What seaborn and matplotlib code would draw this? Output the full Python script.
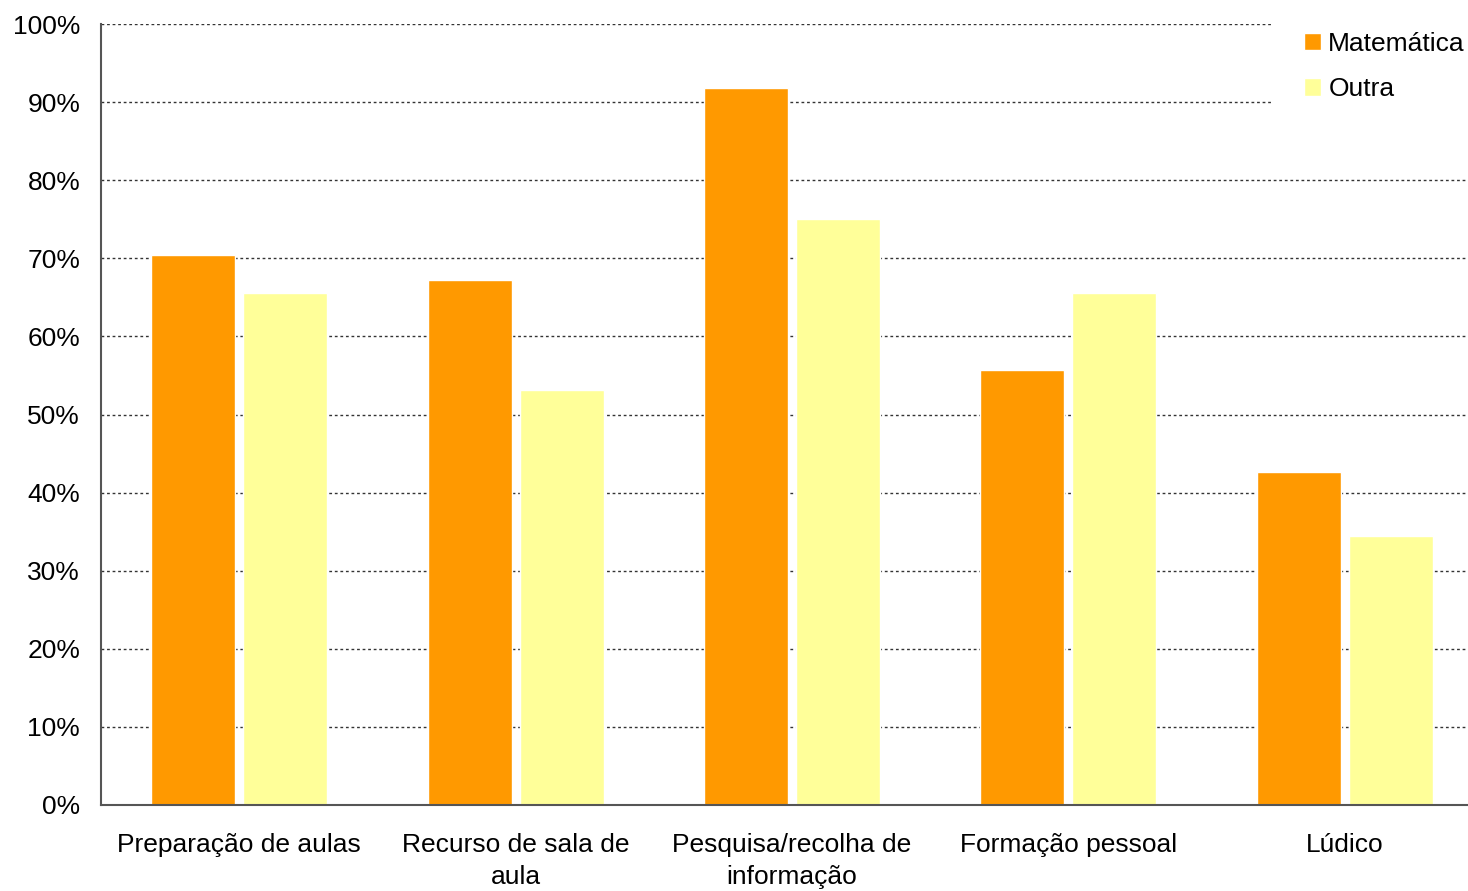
import pandas as pd
import matplotlib.pyplot as plt
import seaborn as sns
from matplotlib.ticker import PercentFormatter

# --- Dados ---
categorias = ['Preparação de aulas', 'Recurso de sala de\naula', 'Pesquisa/recolha de\ninformação',
              'Formação pessoal', 'Lúdico']
matematica = [70.4, 67.2, 91.8, 55.7, 42.6]
outra = [65.6, 53.1, 75.0, 65.6, 34.4]
series = ['Matemática', 'Outra']
cores = ['#FF9900', '#FFFF99']

df = pd.DataFrame({
    'Categoria': categorias * 2,
    'Valor': matematica + outra,
    'Grupo': [series[0]] * len(categorias) + [series[1]] * len(categorias),
})

sns.set_theme(style='white')
plt.rcParams['font.family'] = ['Liberation Sans', 'DejaVu Sans']
plt.rcParams['text.color'] = 'black'

fs = 19

fig = plt.figure(figsize=(14.68, 8.91), dpi=100)
# o eixo termina um pouco além da borda direita, como no original
ax = fig.add_axes([101 / 1468, 1 - 805 / 891, (1483 - 101) / 1468, (805 - 24) / 891])

sns.barplot(data=df, x='Categoria', y='Valor', hue='Grupo', palette=cores,
            width=0.666, gap=0.087, saturation=1, ax=ax, legend=True)

ax.set_ylim(0, 100)
ax.set_yticks(range(0, 101, 10))
ax.yaxis.set_major_formatter(PercentFormatter(decimals=0))
ax.set_xlabel(None)
ax.set_ylabel(None)
ax.set_axisbelow(True)
ax.yaxis.grid(True, color='#333333', linestyle=(0, (2, 2)), linewidth=1)

for side in ['top', 'right']:
    ax.spines[side].set_visible(False)
for side in ['left', 'bottom']:
    ax.spines[side].set_color('#555555')
    ax.spines[side].set_linewidth(1.5)

ax.tick_params(axis='y', length=0, pad=15, labelsize=fs, colors='black')
ax.tick_params(axis='x', length=0, pad=20, labelsize=fs, colors='black')
for lbl in ax.get_xticklabels():
    lbl.set_linespacing(1.45)

handles, labels = ax.get_legend_handles_labels()
ax.get_legend().remove()
leg = fig.legend(handles, labels, loc='upper right', bbox_to_anchor=(1.0195, 1.0),
                 fontsize=fs, frameon=True, fancybox=False, framealpha=1,
                 facecolor='white', edgecolor='none', handlelength=0.64,
                 handleheight=0.64, handletextpad=0.28, labelspacing=0.82,
                 borderpad=1.2, borderaxespad=0.0, labelcolor='black')
leg.set_zorder(5)

fig.savefig('out.png', dpi=100)
